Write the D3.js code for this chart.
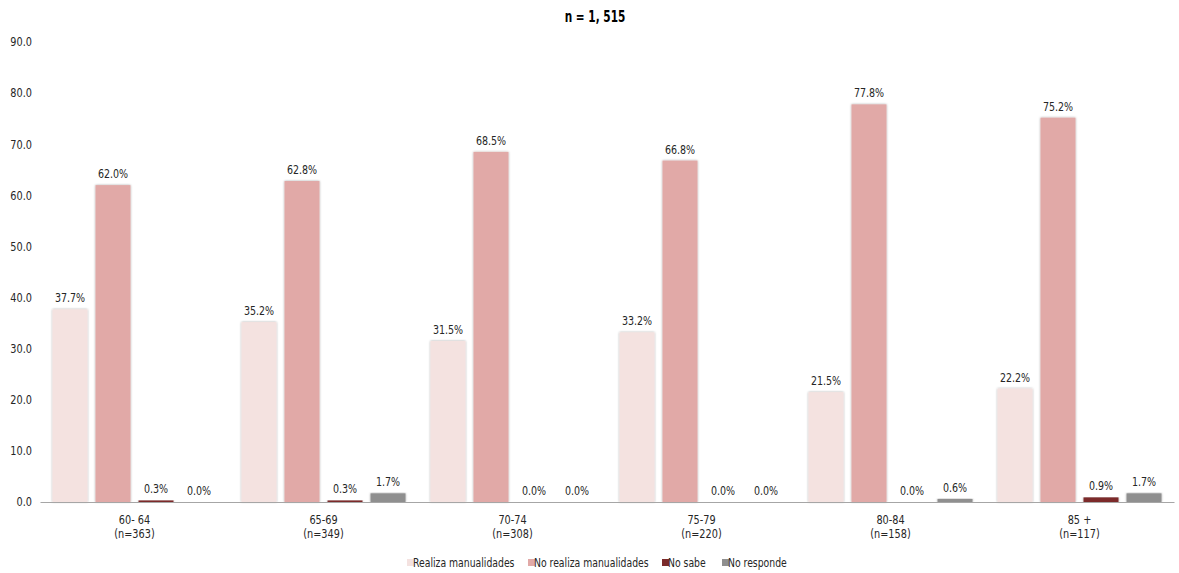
<!DOCTYPE html>
<html><head><meta charset="utf-8">
<script src="https://cdn.jsdelivr.net/npm/d3@7"></script>
<style>
body{margin:0;background:#fff;}
text{font-family:"DejaVu Sans Condensed","DejaVu Sans",sans-serif;font-stretch:condensed;fill:#262626;}
</style></head><body>
<svg id="c" width="1179" height="573"></svg>
<script>
const categories = ["60- 64|(n=363)","65-69|(n=349)","70-74|(n=308)","75-79|(n=220)","80-84|(n=158)","85 +|(n=117)"];
const seriesNames = ["Realiza manualidades","No realiza manualidades","No sabe","No responde"];
const realiza = [37.7,35.2,31.5,33.2,21.5,22.2];
const noRealiza = [62.0,62.8,68.5,66.8,77.8,75.2];
const noSabe = [0.3,0.3,0.0,0.0,0.0,0.9];
const noResponde = [0.0,1.7,0.0,0.0,0.6,1.7];
const yTicks = [0,10,20,30,40,50,60,70,80,90];
const title = "n = 1, 515";
const colors = ["#F4E2E0","#E1A9A7","#7B2B2B","#8F8F8F"];

const series = [realiza,noRealiza,noSabe,noResponde];
const svg = d3.select("#c");
const L=40,R=1174,T=42,B=502;
const x0 = d3.scaleBand().domain(categories).range([L,R]).padding(0);
const x1 = d3.scaleBand().domain(seriesNames).range([0,x0.bandwidth()]).paddingInner(0.186).paddingOuter(0.29);
const y = d3.scaleLinear().domain([0,90]).range([B,T]);

function squeeze(sel, k){
  sel.each(function(){
    const w = this.getComputedTextLength();
    d3.select(this).attr("textLength", w*k).attr("lengthAdjust","spacingAndGlyphs");
  });
}

const tt = svg.append("text").attr("x",595).attr("y",22).attr("text-anchor","middle")
  .style("font-weight","bold").style("font-size","15px").style("fill","#000").text(title);
squeeze(tt,0.78);

// y axis labels
const ya = svg.append("g").attr("transform",`translate(${L},0)`)
  .call(d3.axisLeft(y).tickValues(yTicks).tickFormat(d3.format(".1f")).tickSize(0).tickPadding(8));
ya.select(".domain").remove();
ya.selectAll("text").style("font-size","12px").style("font-family",null).attr("fill",null);
squeeze(ya.selectAll("text"),0.9);

const defs = svg.append("defs");
const f = defs.append("filter").attr("id","sh").attr("x","-20%").attr("y","-5%").attr("width","140%").attr("height","110%");
f.append("feDropShadow").attr("dx",0).attr("dy",0).attr("stdDeviation",0.8).attr("flood-color","#000").attr("flood-opacity",0.35);

categories.forEach((c,i)=>{
  const g = svg.append("g").attr("transform",`translate(${x0(c)},0)`);
  seriesNames.forEach((s,j)=>{
    const v = series[j][i];
    if (v>0) g.append("rect").attr("x",x1(s)).attr("width",x1.bandwidth())
      .attr("y",y(v)).attr("height",B-y(v)).attr("fill",colors[j]).attr("filter","url(#sh)");
    const lt = g.append("text").attr("x",x1(s)+x1.bandwidth()/2).attr("y",y(v)-7)
      .attr("text-anchor","middle").style("font-size","12px").text(v.toFixed(1)+"%");
    squeeze(lt,0.88);
  });
});

// x axis
const xa = svg.append("g").attr("transform",`translate(0,${B})`)
  .call(d3.axisBottom(x0).tickSize(0).tickFormat(""));
xa.select(".domain").attr("stroke","#a6a6a6").attr("stroke-width",1.2);
categories.forEach(c=>{
  const parts=c.split("|");
  [0,1].forEach(k=>{
    const t = svg.append("text").attr("x",x0(c)+x0.bandwidth()/2).attr("y",524+k*14)
      .attr("text-anchor","middle").style("font-size","12px").text(parts[k]);
    squeeze(t,0.9);
  });
});

// legend
const legX=[407,528,662,722];
seriesNames.forEach((s,j)=>{
  svg.append("rect").attr("x",legX[j]).attr("y",559).attr("width",7).attr("height",7).attr("fill",colors[j]);
  const lt = svg.append("text").attr("x",legX[j]+6).attr("y",567).style("font-size","12px").text(s);
  squeeze(lt,0.86);
});
</script></body></html>
